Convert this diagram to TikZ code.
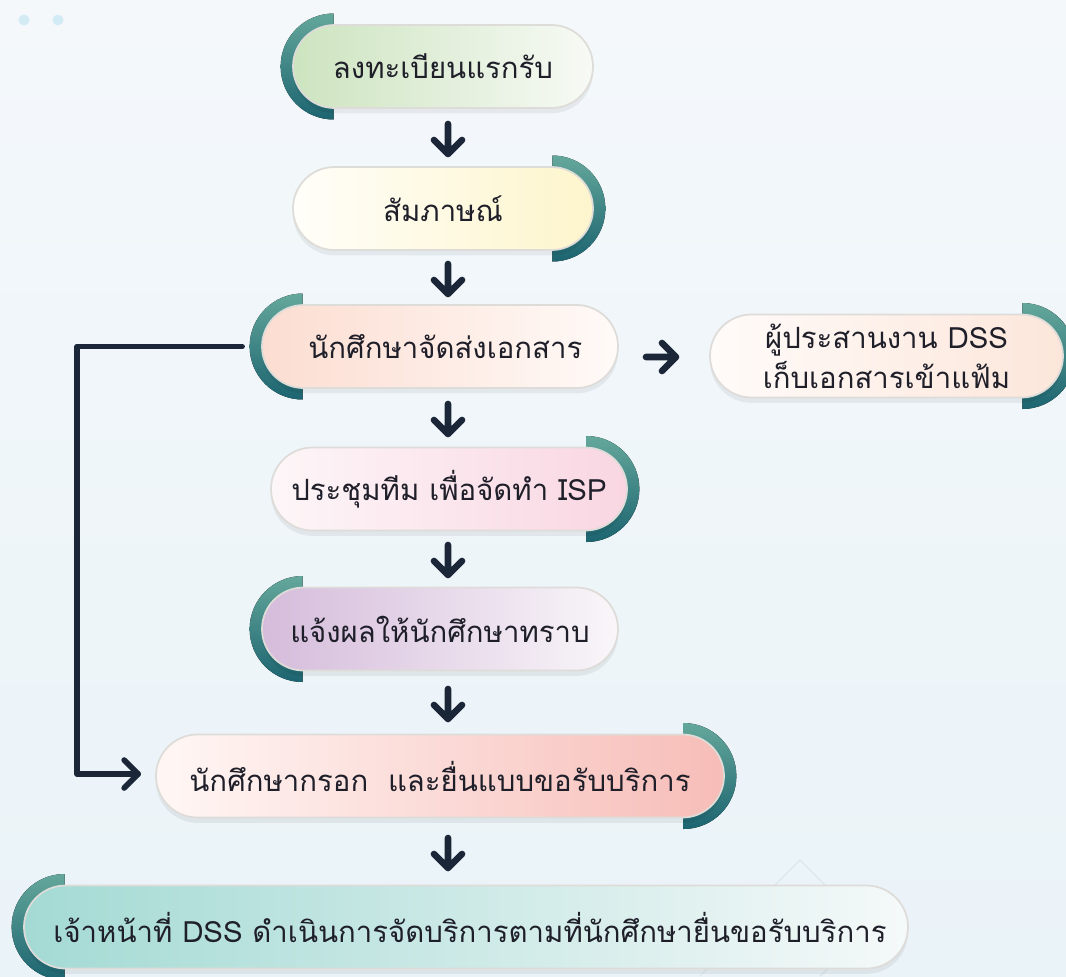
\documentclass[tikz,border=0pt]{standalone}
\usepackage{fontspec}
\newfontfamily\thaifont[Script=Thai]{Loma}
\usetikzlibrary{shapes.misc,shadows,calc}
\definecolor{navy}{HTML}{1B2638}
\definecolor{txt}{HTML}{1F1F2A}
\definecolor{ringtop}{HTML}{64A79B}
\definecolor{ringbot}{HTML}{1C6470}
\definecolor{pillborder}{HTML}{DEDCD8}
\definecolor{bgtop}{HTML}{F4F8FB}
\definecolor{bgbot}{HTML}{EAF3F8}
\definecolor{dotc}{HTML}{D3EBF5}
\definecolor{decoline}{HTML}{D2E0E8}
\definecolor{gAl}{HTML}{CDE4C0}\definecolor{gAr}{HTML}{F7FAF5}
\definecolor{gBl}{HTML}{FFFEF9}\definecolor{gBr}{HTML}{FDF5CC}
\definecolor{gCl}{HTML}{FCDDD1}\definecolor{gCr}{HTML}{FFFAF8}
\definecolor{gDl}{HTML}{FFFBF9}\definecolor{gDr}{HTML}{FCE6DA}
\definecolor{gEl}{HTML}{FDF6F8}\definecolor{gEr}{HTML}{F9D6E2}
\definecolor{gFl}{HTML}{D5BCDB}\definecolor{gFr}{HTML}{F9F6F9}
\definecolor{gGl}{HTML}{FFF7F5}\definecolor{gGr}{HTML}{F7BDB8}
\definecolor{gHl}{HTML}{A4DAD4}\definecolor{gHr}{HTML}{F5F9F9}
\pgfdeclarelayer{bg}
\pgfdeclarelayer{rings}
\pgfsetlayers{bg,rings,main}
\begin{document}
\begin{tikzpicture}[x=0.75pt,y=-0.75pt,
  pill/.style={rounded rectangle, minimum height=62.25pt, inner sep=0pt,
    draw=pillborder, line width=1.3pt, text=txt, align=center,
    font=\thaifont\fontsize{22}{30}\selectfont,
    drop shadow={shadow xshift=0pt, shadow yshift=-4pt, opacity=0.06, fill=black}},
  arrowline/.style={draw=navy, line width=5pt, line cap=round, line join=round},
  elbowline/.style={draw=navy, line width=4.2pt, line cap=round, line join=round},
  lring/.pic={\fill[top color=ringtop, bottom color=ringbot]
      (0,-53) arc[start angle=270, end angle=90, radius=53] -- (0,41)
      arc[start angle=90, end angle=270, radius=41] -- cycle;},
  rring/.pic={\fill[top color=ringtop, bottom color=ringbot]
      (0,-53) arc[start angle=-90, end angle=90, radius=53] -- (0,41)
      arc[start angle=90, end angle=-90, radius=41] -- cycle;}
]
\useasboundingbox (0,0) rectangle (1066,976);
\begin{pgfonlayer}{bg}
  \fill[top color=bgtop, bottom color=bgbot] (0,0) rectangle (1066,976);
  \fill[dotc] (24,20) circle[radius=5.5];
  \fill[dotc] (58,20) circle[radius=5.5];
  \draw[decoline, line width=1pt, opacity=0.6] (730,930) -- (800,860) -- (870,930) -- (820,976);
  \draw[decoline, line width=1pt, opacity=0.6] (760,945) -- (800,905) -- (840,945);
  \draw[decoline, line width=1pt, opacity=0.45] (700,976) -- (745,931);
\end{pgfonlayer}

% nodes
\node[pill, minimum width=225pt, left color=gAl, right color=gAr] (n1) at (443,66.5) {ลงทะเบียนแรกรับ};
\node[pill, minimum width=225pt, left color=gBl, right color=gBr] (n2) at (443,208.5) {สัมภาษณ์};
\node[pill, minimum width=267pt, left color=gCl, right color=gCr] (n3) at (440,346.5) {\hspace*{8pt}นักศึกษาจัดส่งเอกสาร};
\node[pill, minimum width=264.75pt, left color=gDl, right color=gDr] (n4) at (886.5,356) {ผู้ประสานงาน DSS\\เก็บเอกสารเข้าแฟ้ม};
\node[pill, minimum width=267pt, left color=gEl, right color=gEr] (n5) at (449,489) {ประชุมทีม เพื่อจัดทำ ISP};
\node[pill, minimum width=267pt, left color=gFl, right color=gFr] (n6) at (440,629) {แจ้งผลให้นักศึกษาทราบ};
\node[pill, minimum width=426pt, left color=gGl, right color=gGr] (n7) at (440,776) {นักศึกษากรอก\ \ และยื่นแบบขอรับบริการ};
\node[pill, minimum width=663pt, left color=gHl, right color=gHr] (n8) at (466,927) {\hspace*{6pt}เจ้าหน้าที่ DSS ดำเนินการจัดบริการตามที่นักศึกษายื่นขอรับบริการ};

% rings
\begin{pgfonlayer}{rings}
  \pic at ($(n1.west)+(41.5,0)$) {lring};
  \pic at ($(n2.east)+(-41.5,0)$) {rring};
  \pic at ($(n3.west)+(41.5,0)$) {lring};
  \pic at ($(n4.east)+(-41.5,0)$) {rring};
  \pic at ($(n5.east)+(-41.5,0)$) {rring};
  \pic at ($(n6.west)+(41.5,0)$) {lring};
  \pic at ($(n7.east)+(-41.5,0)$) {rring};
  \pic at ($(n8.west)+(41.5,0)$) {lring};
\end{pgfonlayer}

% down arrows (icons between the steps)
\foreach \i/\ys/\ye in {1/124/154, 2/264/294, 3/404/434, 4/545/575, 5/689/719, 6/838/868}{
  \coordinate (s\i) at (448,\ys);
  \coordinate (t\i) at (448,\ye);
  \draw[arrowline] (s\i) -- (t\i) ($(t\i)+(-14,-14)$) -- (t\i) -- ($(t\i)+(14,-14)$);
}

% right arrow to n4
\coordinate (rs) at (646,357);
\coordinate (rt) at (676,357);
\draw[arrowline] (rs) -- (rt) ($(rt)+(-14,-14)$) -- (rt) -- ($(rt)+(-14,14)$);

% elbow connector n3 -> n7
\coordinate (e1) at ($(n3.west)+(-19,0)$);
\coordinate (ek) at (77,346.5);
\coordinate (e2) at ($(n7.west)+(-17,-2)$);
\draw[elbowline] (e1) -- (ek) |- (e2);
\draw[elbowline] ($(e2)+(-14,-14)$) -- (e2) -- ($(e2)+(-14,14)$);
\end{tikzpicture}
\end{document}
